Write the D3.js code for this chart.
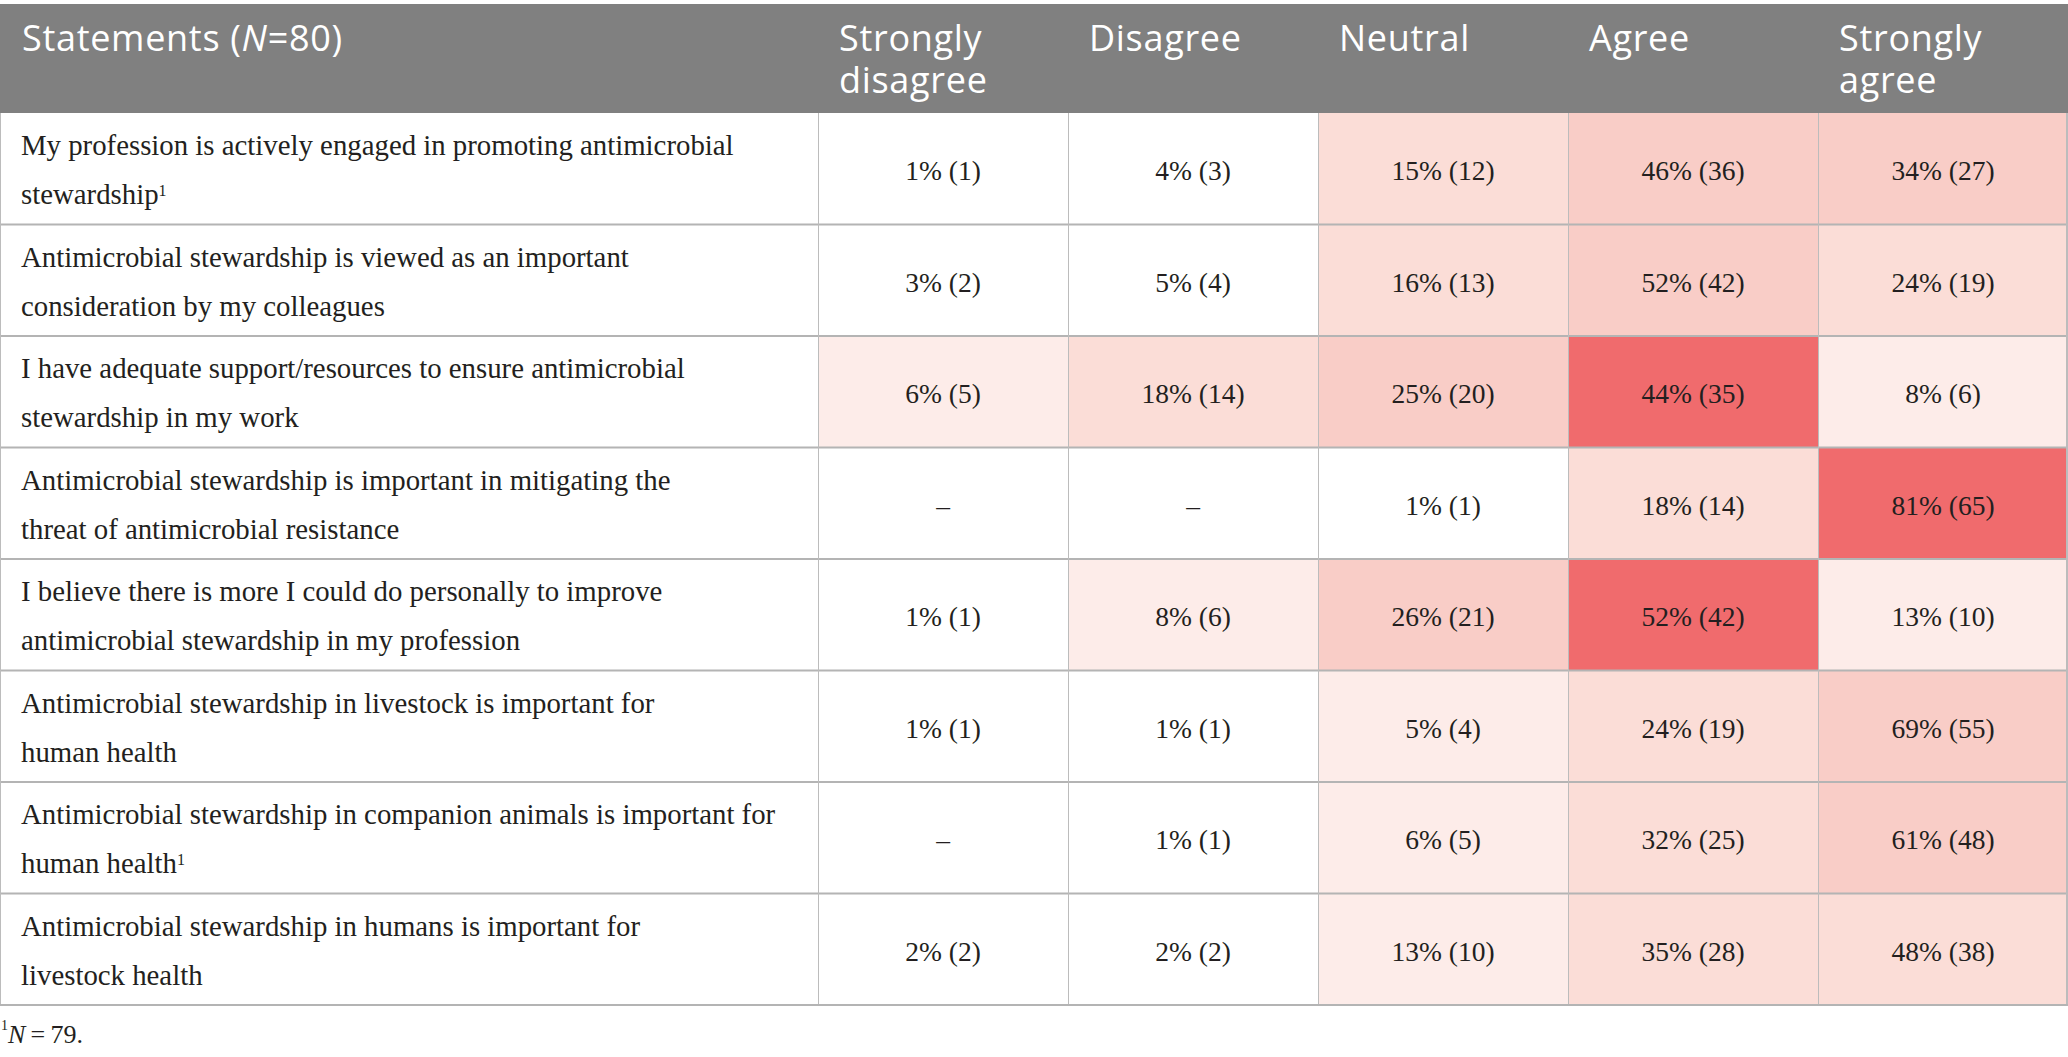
<!DOCTYPE html>
<html lang="en">
<head>
<meta charset="utf-8">
<title>Antimicrobial stewardship statements</title>
<script src="https://d3js.org/d3.v7.min.js"></script>
<style>
  html, body { margin: 0; padding: 0; background: #fff; }
</style>
</head>
<body>
<script>
// data
var responses = ['Strongly disagree', 'Disagree', 'Neutral', 'Agree', 'Strongly agree'];
var responseLines = [['Strongly', 'disagree'], ['Disagree'], ['Neutral'], ['Agree'], ['Strongly', 'agree']];

var statements = [
    ['My profession is actively engaged in promoting antimicrobial', 'stewardship'],
    ['Antimicrobial stewardship is viewed as an important', 'consideration by my colleagues'],
    ['I have adequate support/resources to ensure antimicrobial', 'stewardship in my work'],
    ['Antimicrobial stewardship is important in mitigating the', 'threat of antimicrobial resistance'],
    ['I believe there is more I could do personally to improve', 'antimicrobial stewardship in my profession'],
    ['Antimicrobial stewardship in livestock is important for', 'human health'],
    ['Antimicrobial stewardship in companion animals is important for', 'human health'],
    ['Antimicrobial stewardship in humans is important for', 'livestock health']
];
// rows answered by N=79
var footnoted = [0, 6];

// percentages (null = no answers)
var percents = [
    [1, 4, 15, 46, 34],
    [3, 5, 16, 52, 24],
    [6, 18, 25, 44, 8],
    [null, null, 1, 18, 81],
    [1, 8, 26, 52, 13],
    [1, 1, 5, 24, 69],
    [null, 1, 6, 32, 61],
    [2, 2, 13, 35, 48]
];
var counts = [
    [1, 3, 12, 36, 27],
    [2, 4, 13, 42, 19],
    [5, 14, 20, 35, 6],
    [null, null, 1, 14, 65],
    [1, 6, 21, 42, 10],
    [1, 1, 4, 19, 55],
    [null, 1, 5, 25, 48],
    [2, 2, 10, 28, 38]
];
// heat level of each cell as shaded in the table (0 = none, 4 = highest)
var heat = [
    [0, 0, 2, 3, 3],
    [0, 0, 2, 3, 2],
    [1, 2, 3, 4, 1],
    [0, 0, 0, 2, 4],
    [0, 1, 3, 4, 1],
    [0, 0, 1, 2, 3],
    [0, 0, 1, 2, 3],
    [0, 0, 1, 2, 2]
];

// canvas
var width = 2068, height = 1057;
var headTop = 4, headBottom = 113, tableBottom = 1005, firstColW = 818;

var svg = d3.select('body').append('svg')
    .attr('width', width)
    .attr('height', height);

// scales
var x = d3.scaleBand().domain(responses).range([firstColW, width]);
var y = d3.scaleBand().domain(d3.range(statements.length)).range([headBottom, tableBottom]);
var color = d3.scaleOrdinal().domain([0, 1, 2, 3, 4])
    .range(['#ffffff', '#fdece9', '#fbddd7', '#f9cdc7', '#f06b6d']);

var serif = '"Liberation Serif", "Times New Roman", serif';
var sans = '"Open Sans", "Noto Sans", sans-serif';

// header
svg.append('rect')
    .attr('x', 0).attr('y', headTop)
    .attr('width', width).attr('height', headBottom - headTop)
    .attr('fill', '#808080');

var headText = svg.append('text')
    .attr('x', 22).attr('y', 51)
    .attr('font-family', sans).attr('font-size', 36)
    .attr('letter-spacing', 0.7)
    .attr('fill', '#fff');
headText.append('tspan').text('Statements (');
headText.append('tspan').attr('font-style', 'italic').text('N');
headText.append('tspan').text('=80)');

svg.selectAll('text.resp').data(responses).enter()
    .append('text').attr('class', 'resp')
    .attr('font-family', sans).attr('font-size', 36)
    .attr('letter-spacing', 0.7)
    .attr('fill', '#fff')
    .each(function (d, i) {
        d3.select(this).selectAll('tspan').data(responseLines[i]).enter()
            .append('tspan')
            .attr('x', x(d) + 21)
            .attr('y', function (l, j) { return 51 + j * 42; })
            .text(function (l) { return l; });
    });

// cells
var rows = svg.selectAll('g.row').data(statements).enter()
    .append('g').attr('class', 'row');

rows.selectAll('rect').data(function (d, i) {
    return responses.map(function (r, j) { return { row: i, col: r, level: heat[i][j] }; });
}).enter().append('rect')
    .attr('x', function (d) { return x(d.col); })
    .attr('y', function (d) { return y(d.row); })
    .attr('width', x.bandwidth())
    .attr('height', y.bandwidth())
    .attr('fill', function (d) { return color(d.level); });

rows.selectAll('text.val').data(function (d, i) {
    return responses.map(function (r, j) { return { row: i, col: r, p: percents[i][j], n: counts[i][j] }; });
}).enter().append('text').attr('class', 'val')
    .attr('x', function (d) { return x(d.col) + x.bandwidth() / 2; })
    .attr('y', function (d) { return y(d.row) + y.bandwidth() / 2; })
    .attr('dy', '0.42em')
    .attr('text-anchor', 'middle')
    .attr('font-family', serif).attr('font-size', 27.5)
    .attr('fill', '#231f20')
    .text(function (d) { return d.p === null ? '\u2013' : d.p + '% (' + d.n + ')'; });

// statement text
rows.append('text')
    .attr('font-family', serif).attr('font-size', 28.8)
    .attr('fill', '#231f20')
    .each(function (d, i) {
        var cy = y(i) + y.bandwidth() / 2;
        var t = d3.select(this);
        d.forEach(function (line, j) {
            t.append('tspan')
                .attr('x', 21)
                .attr('y', cy - 24.5 + j * 49)
                .attr('dy', '0.38em')
                .text(line);
            if (j === d.length - 1 && footnoted.indexOf(i) >= 0) {
                t.append('tspan')
                    .attr('font-size', 16)
                    .attr('dy', '-0.5em')
                    .text('1');
            }
        });
    });

// grid lines
svg.selectAll('line.hline').data(d3.range(1, statements.length)).enter()
    .append('line').attr('class', 'hline')
    .attr('x1', 0).attr('x2', width)
    .attr('y1', function (d) { return y(d); })
    .attr('y2', function (d) { return y(d); })
    .attr('stroke', '#b4b4b4').attr('stroke-width', 2);

svg.selectAll('line.vline').data(responses).enter()
    .append('line').attr('class', 'vline')
    .attr('x1', function (d) { return x(d) + 0.5; })
    .attr('x2', function (d) { return x(d) + 0.5; })
    .attr('y1', headBottom).attr('y2', tableBottom)
    .attr('stroke', '#bcbcbc').attr('stroke-width', 1);

// outer frame of body
svg.append('line')
    .attr('x1', 0.5).attr('x2', 0.5).attr('y1', headBottom).attr('y2', tableBottom)
    .attr('stroke', '#bcbcbc');
svg.append('line')
    .attr('x1', width - 1).attr('x2', width - 1).attr('y1', headBottom).attr('y2', tableBottom)
    .attr('stroke', '#bcbcbc').attr('stroke-width', 2);
svg.append('line')
    .attr('x1', 0).attr('x2', width).attr('y1', tableBottom).attr('y2', tableBottom)
    .attr('stroke', '#b4b4b4').attr('stroke-width', 2);

// footnote
var foot = svg.append('text')
    .attr('x', 1).attr('y', 1043)
    .attr('font-family', serif).attr('font-size', 26)
    .attr('fill', '#231f20');
foot.append('tspan').attr('font-size', 14).attr('dy', '-0.9em').text('1');
foot.append('tspan').attr('font-style', 'italic').attr('dy', '0.48em').text('N');
foot.append('tspan').text('\u2009=\u200979.');
</script>
</body>
</html>
